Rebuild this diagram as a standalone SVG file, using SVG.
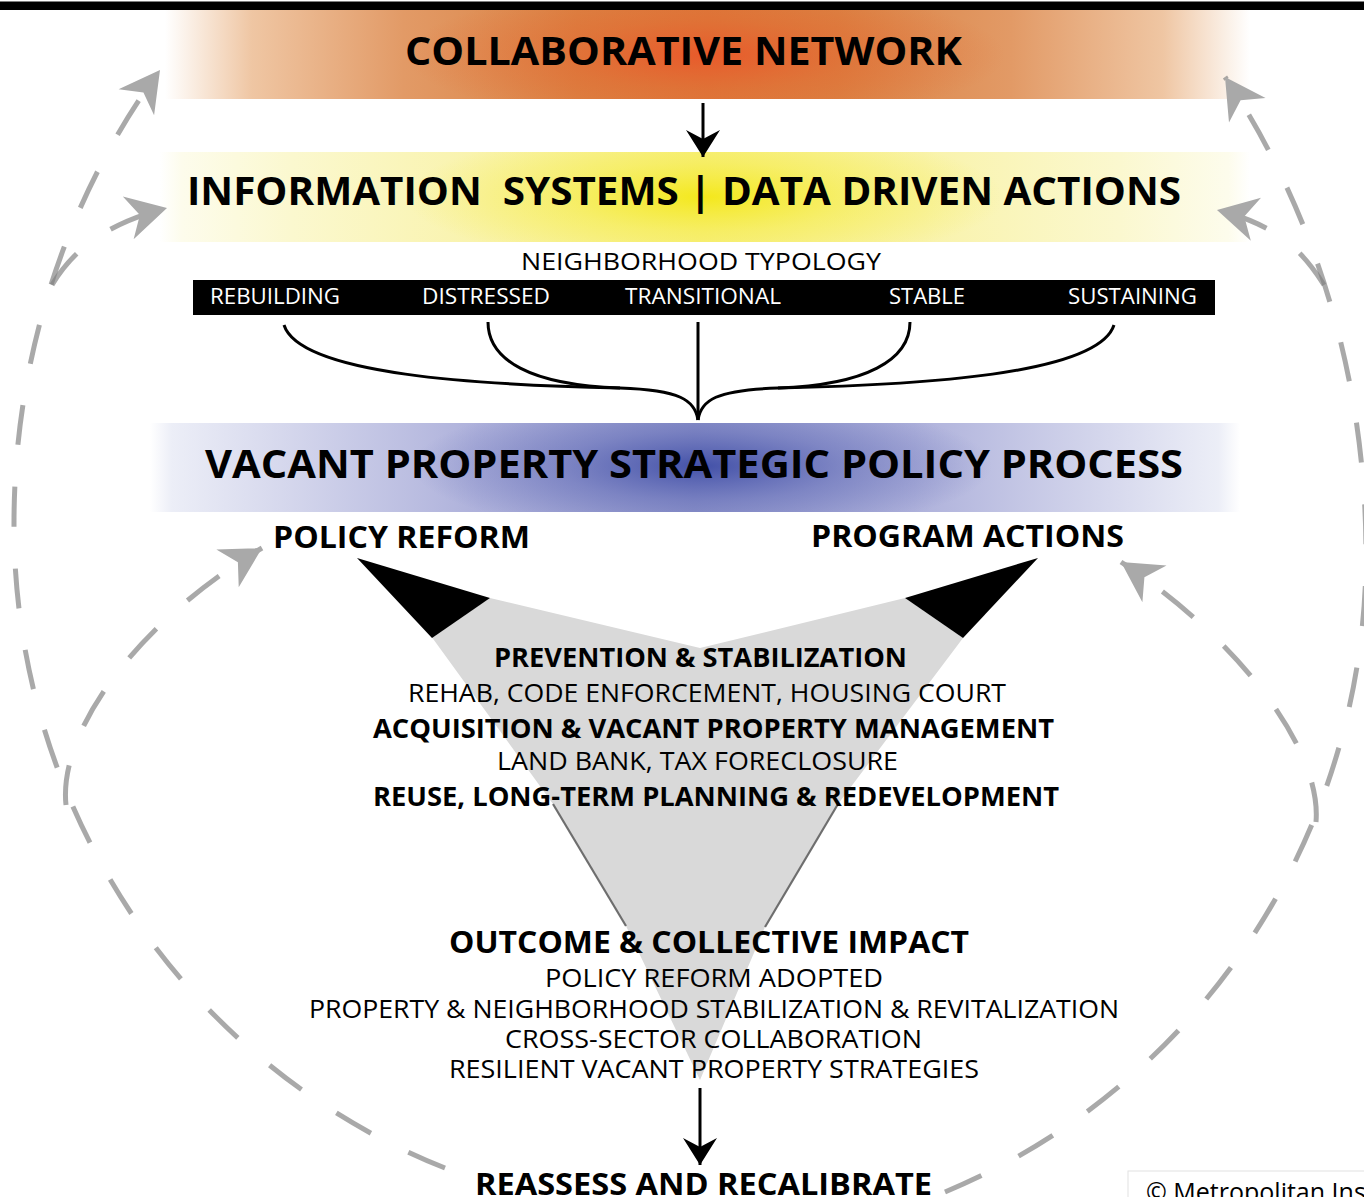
<svg xmlns="http://www.w3.org/2000/svg" width="1364" height="1197" viewBox="0 0 1364 1197">
<style>
.t{font-family:"Open Sans","Liberation Sans",sans-serif;fill:#000}
.b{font-weight:700}
.r{font-weight:400}
.w{fill:#fff}
.dash{fill:none;stroke:#808080;stroke-opacity:0.68;stroke-width:5;stroke-dasharray:40 42}
.blk{fill:none;stroke:#000;stroke-width:3}
</style>
<defs>
<clipPath id="cC"><rect x="165" y="10" width="1085" height="89"/></clipPath>
<clipPath id="cI"><rect x="160" y="152" width="1090" height="90"/></clipPath>
<clipPath id="cV"><rect x="150" y="423" width="1090" height="89"/></clipPath>
<linearGradient id="gC" x1="0" x2="1" y1="0" y2="0">
<stop offset="0" stop-color="#fff"/>
<stop offset="0.02" stop-color="#fbf1e8"/>
<stop offset="0.08" stop-color="#efc6a3"/>
<stop offset="0.22" stop-color="#e29a66"/>
<stop offset="0.38" stop-color="#db8344"/>
<stop offset="0.5" stop-color="#dc7b3c"/>
<stop offset="0.62" stop-color="#db8344"/>
<stop offset="0.78" stop-color="#e29a66"/>
<stop offset="0.92" stop-color="#efc6a3"/>
<stop offset="0.98" stop-color="#fbf1e8"/>
<stop offset="1" stop-color="#fff"/>
</linearGradient>
<radialGradient id="rC">
<stop offset="0" stop-color="#e9582a" stop-opacity="0.95"/>
<stop offset="0.5" stop-color="#e3662f" stop-opacity="0.45"/>
<stop offset="1" stop-color="#e3662f" stop-opacity="0"/>
</radialGradient>
<linearGradient id="gI" x1="0" x2="1" y1="0" y2="0">
<stop offset="0" stop-color="#fff"/>
<stop offset="0.02" stop-color="#fdfcec"/>
<stop offset="0.12" stop-color="#fbf8cf"/>
<stop offset="0.3" stop-color="#f9f3ab"/>
<stop offset="0.5" stop-color="#f7ef88"/>
<stop offset="0.7" stop-color="#f9f3ab"/>
<stop offset="0.88" stop-color="#fbf8cf"/>
<stop offset="0.98" stop-color="#fdfcec"/>
<stop offset="1" stop-color="#fff"/>
</linearGradient>
<radialGradient id="rI">
<stop offset="0" stop-color="#f4e81c" stop-opacity="1"/>
<stop offset="0.5" stop-color="#f5ec40" stop-opacity="0.5"/>
<stop offset="1" stop-color="#f5ec40" stop-opacity="0"/>
</radialGradient>
<linearGradient id="gV" x1="0" x2="1" y1="0" y2="0">
<stop offset="0" stop-color="#fff"/>
<stop offset="0.02" stop-color="#eceef7"/>
<stop offset="0.12" stop-color="#d6d8ed"/>
<stop offset="0.3" stop-color="#aeb1db"/>
<stop offset="0.5" stop-color="#959acd"/>
<stop offset="0.7" stop-color="#aeb1db"/>
<stop offset="0.88" stop-color="#d6d8ed"/>
<stop offset="0.98" stop-color="#eceef7"/>
<stop offset="1" stop-color="#fff"/>
</linearGradient>
<radialGradient id="rV">
<stop offset="0" stop-color="#4351a8" stop-opacity="1"/>
<stop offset="0.5" stop-color="#5b66b4" stop-opacity="0.5"/>
<stop offset="1" stop-color="#5b66b4" stop-opacity="0"/>
</radialGradient>
<marker id="ag" markerUnits="userSpaceOnUse" viewBox="-42 -24 44 48" markerWidth="44" markerHeight="48" refX="0" refY="0" orient="auto">
<path d="M0,0 L-40,-22 L-28,0 L-40,22 Z" fill="#a9a9a9"/>
</marker>
<marker id="ab" markerUnits="userSpaceOnUse" viewBox="-29 -19 31 38" markerWidth="31" markerHeight="38" refX="0" refY="0" orient="auto">
<path d="M0,0 L-27,-17 L-18,0 L-27,17 Z" fill="#000"/>
</marker>
</defs>

<rect x="0" y="0" width="1364" height="1197" fill="#fff"/>
<rect id="top-rule" x="0" y="1.5" width="1364" height="8.5" fill="#000"/>

<g id="collaborative-network">
<rect x="165" y="10" width="1085" height="89" fill="url(#gC)"/>
<ellipse cx="705" cy="55" rx="300" ry="70" fill="url(#rC)" clip-path="url(#cC)"/>
<text class="t b" x="405" y="65" font-size="39" textLength="557" lengthAdjust="spacingAndGlyphs">COLLABORATIVE NETWORK</text>
</g>

<g id="information-systems">
<rect x="160" y="152" width="1090" height="90" fill="url(#gI)"/>
<ellipse cx="705" cy="197" rx="300" ry="70" fill="url(#rI)" clip-path="url(#cI)"/>
<text class="t b" x="187" y="205" font-size="39" textLength="994" lengthAdjust="spacingAndGlyphs" xml:space="preserve">INFORMATION  SYSTEMS | DATA DRIVEN ACTIONS</text>
</g>

<g id="neighborhood-typology">
<text class="t r" x="521" y="270" font-size="24" textLength="360" lengthAdjust="spacingAndGlyphs">NEIGHBORHOOD TYPOLOGY</text>
<rect x="193" y="280" width="1022" height="35" fill="#000"/>
<text class="t r w" x="210" y="304" font-size="21" textLength="130" lengthAdjust="spacingAndGlyphs">REBUILDING</text>
<text class="t r w" x="422" y="304" font-size="21" textLength="128" lengthAdjust="spacingAndGlyphs">DISTRESSED</text>
<text class="t r w" x="625" y="304" font-size="21" textLength="156" lengthAdjust="spacingAndGlyphs">TRANSITIONAL</text>
<text class="t r w" x="889" y="304" font-size="21" textLength="76" lengthAdjust="spacingAndGlyphs">STABLE</text>
<text class="t r w" x="1068" y="304" font-size="21" textLength="129" lengthAdjust="spacingAndGlyphs">SUSTAINING</text>
</g>

<g id="vacant-property-process">
<rect x="150" y="423" width="1090" height="89" fill="url(#gV)"/>
<ellipse cx="702" cy="466" rx="290" ry="70" fill="url(#rV)" clip-path="url(#cV)"/>
<text class="t b" x="205" y="478" font-size="39" textLength="978" lengthAdjust="spacingAndGlyphs">VACANT PROPERTY STRATEGIC POLICY PROCESS</text>
</g>

<g id="funnel">
<polygon points="490,598 700,648 905,598 963,638 838,804 765,927 700,1080 626,926 553,804 431,636" fill="#d9d9d9"/>
<line x1="553" y1="804" x2="626" y2="926" stroke="#6e6e6e" stroke-width="2.2"/>
<line x1="838" y1="804" x2="765" y2="927" stroke="#6e6e6e" stroke-width="2.2"/>
<polygon points="357,558 490,598 432,638" fill="#000"/>
<polygon points="1038,558 905,598 963,638" fill="#000"/>
</g>

<g id="policy-reform">
<text class="t b" x="273" y="548" font-size="30" textLength="257" lengthAdjust="spacingAndGlyphs">POLICY REFORM</text>
</g>
<g id="program-actions">
<text class="t b" x="811" y="547" font-size="30" textLength="313" lengthAdjust="spacingAndGlyphs">PROGRAM ACTIONS</text>
</g>

<g id="strategies">
<text class="t b" x="494" y="667" font-size="26" textLength="413" lengthAdjust="spacingAndGlyphs">PREVENTION &amp; STABILIZATION</text>
<text class="t r" x="408" y="702" font-size="26" textLength="598" lengthAdjust="spacingAndGlyphs">REHAB, CODE ENFORCEMENT, HOUSING COURT</text>
<text class="t b" x="373" y="738" font-size="26" textLength="681" lengthAdjust="spacingAndGlyphs">ACQUISITION &amp; VACANT PROPERTY MANAGEMENT</text>
<text class="t r" x="497" y="770" font-size="26" textLength="401" lengthAdjust="spacingAndGlyphs">LAND BANK, TAX FORECLOSURE</text>
<text class="t b" x="373" y="806" font-size="26" textLength="686" lengthAdjust="spacingAndGlyphs">REUSE, LONG-TERM PLANNING &amp; REDEVELOPMENT</text>
</g>

<g id="outcome">
<text class="t b" x="449" y="953" font-size="31" textLength="520" lengthAdjust="spacingAndGlyphs">OUTCOME &amp; COLLECTIVE IMPACT</text>
<text class="t r" x="545" y="987" font-size="25" textLength="338" lengthAdjust="spacingAndGlyphs">POLICY REFORM ADOPTED</text>
<text class="t r" x="309" y="1018" font-size="25" textLength="810" lengthAdjust="spacingAndGlyphs">PROPERTY &amp; NEIGHBORHOOD STABILIZATION &amp; REVITALIZATION</text>
<text class="t r" x="505" y="1048" font-size="25" textLength="417" lengthAdjust="spacingAndGlyphs">CROSS-SECTOR COLLABORATION</text>
<text class="t r" x="449" y="1078" font-size="25" textLength="530" lengthAdjust="spacingAndGlyphs">RESILIENT VACANT PROPERTY STRATEGIES</text>
</g>

<g id="reassess">
<text class="t b" x="475" y="1195" font-size="30" textLength="457" lengthAdjust="spacingAndGlyphs">REASSESS AND RECALIBRATE</text>
</g>

<g id="connectors">
<line class="blk" x1="703" y1="103" x2="703" y2="157" marker-end="url(#ab)"/>
<line class="blk" x1="700" y1="1088" x2="700" y2="1165" marker-end="url(#ab)"/>
<path class="blk" d="M284,325 C300,375 480,385 620,388 C680,390 695,400 698,420"/>
<path class="blk" d="M488,322 C488,360 530,385 620,388"/>
<path class="blk" d="M1114,325 C1098,375 918,385 778,388 C716,390 701,400 698,420"/>
<path class="blk" d="M910,322 C910,360 866,385 778,388"/>
<line class="blk" x1="698" y1="322" x2="698" y2="420"/>
<path class="dash" d="M445,1168 A676 690 0 0 1 14,525 A676 730 0 0 1 160,70" marker-end="url(#ag)"/>
<path class="dash" d="M52,285 C70,255 100,225 167,208" marker-end="url(#ag)"/>
<path class="dash" d="M945,1192 A676 688 0 0 0 1366,555 A676 779 0 0 0 1225,77" marker-end="url(#ag)"/>
<path class="dash" d="M1324,285 C1305,255 1280,225 1217,210" marker-end="url(#ag)"/>
<path class="dash" d="M66,805 C58,730 140,620 262,548" marker-end="url(#ag)"/>
<path class="dash" d="M1316,822 C1322,750 1240,640 1121,562" marker-end="url(#ag)"/>
</g>

<g id="copyright">
<rect x="1128" y="1171" width="260" height="40" fill="#fff" stroke="#e2e2e2" stroke-width="1"/>
<text class="t r" x="1146" y="1201" font-size="25">© Metropolitan Institute</text>
</g>
</svg>
